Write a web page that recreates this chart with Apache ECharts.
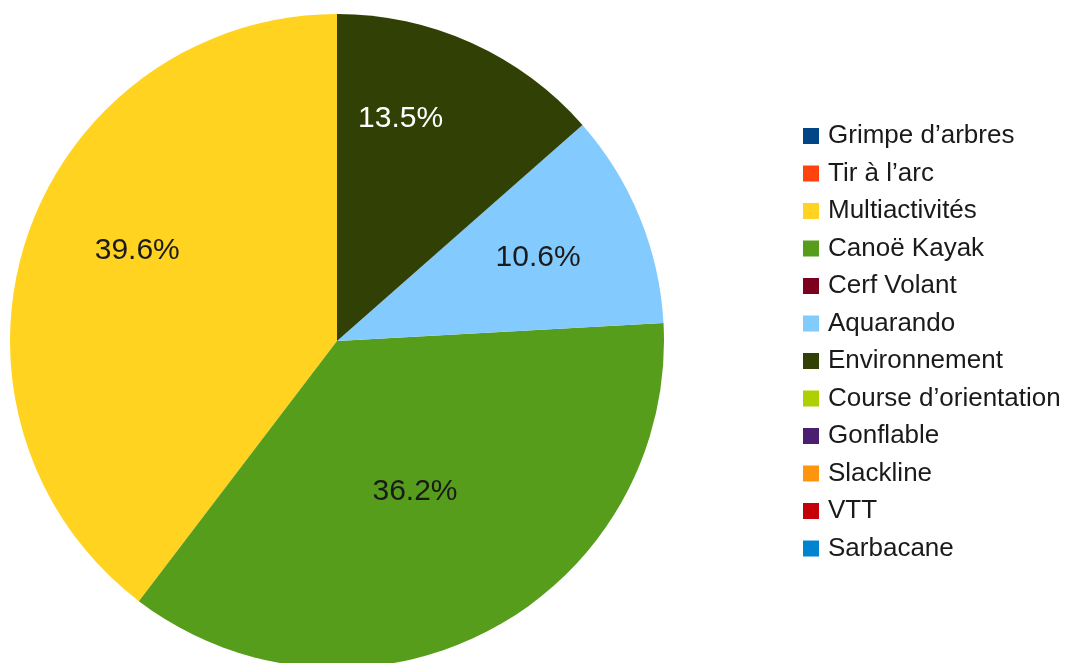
<!DOCTYPE html>
<html>
<head>
<meta charset="utf-8">
<script src="https://cdn.jsdelivr.net/npm/echarts@6/dist/echarts.min.js"></script>
<style>
html,body{margin:0;padding:0;background:#fff;}
#chart{width:1066px;height:663px;}
</style>
</head>
<body>
<div id="chart"></div>
<script>
const categories = ["Grimpe d\u2019arbres","Tir à l\u2019arc","Multiactivités","Canoë Kayak","Cerf Volant","Aquarando","Environnement","Course d\u2019orientation","Gonflable","Slackline","VTT","Sarbacane"];
const values = [0, 0, 39.6, 36.2, 0, 10.6, 13.5, 0, 0, 0, 0, 0];
const colors = ["#004586","#ff420e","#ffd320","#579d1c","#7e0021","#83caff","#314004","#aecf00","#4b1f6f","#ff950e","#c5000b","#0084d1"];
const labelColors = ["#000","#000","#1a1a1a","#1a1a1a","#000","#1a1a1a","#ffffff","#000","#000","#000","#000","#000"];
// label nudges (pixels) relative to the default inside position
const labelNudge = {2:[-42,-37], 3:[0,4], 5:[47,-20], 6:[-5,-71]};

const chart = echarts.init(document.getElementById('chart'));
const data = categories.map((name, i) => ({
  name: name,
  value: values[i],
  itemStyle: {color: colors[i]},
  label: {color: labelColors[i], show: values[i] > 0}
}));
chart.setOption({
  animation: false,
  backgroundColor: '#ffffff',
  legend: {
    orient: 'vertical',
    left: 798,
    top: 118,
    itemWidth: 16,
    itemHeight: 16,
    itemGap: 11.5,
    icon: 'rect',
    selectedMode: false,
    data: categories,
    textStyle: {
      fontFamily: 'Liberation Sans',
      fontSize: 26,
      lineHeight: 26,
      color: '#1a1a1a',
      padding: [0, 0, 0, 4]
    }
  },
  series: [{
    type: 'pie',
    center: [337, 341],
    radius: 327,
    startAngle: 90,
    clockwise: false,
    avoidLabelOverlap: false,
    minAngle: 0,
    itemStyle: {borderWidth: 0},
    label: {
      position: 'inside',
      fontFamily: 'Liberation Sans',
      fontSize: 30,
      formatter: p => p.value > 0 ? p.value.toFixed(1) + '%' : ''
    },
    labelLine: {show: false},
    emphasis: {disabled: true},
    labelLayout: function (params) {
      const n = labelNudge[params.dataIndex];
      return n ? {dx: n[0], dy: n[1]} : {};
    },
    data: data
  }]
});
</script>
</body>
</html>
